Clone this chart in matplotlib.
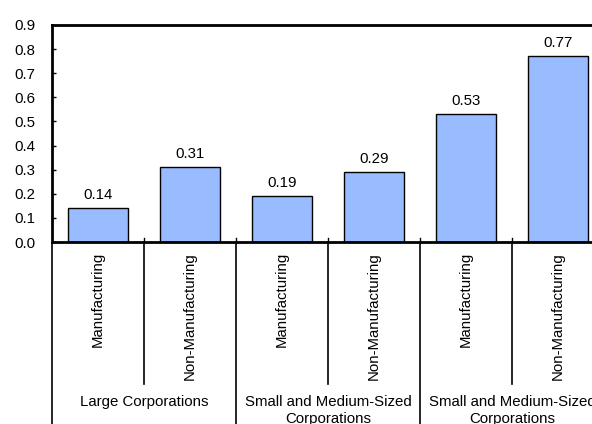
import numpy as np
import matplotlib.pyplot as plt
from matplotlib.ticker import FormatStrFormatter

plt.rcParams['font.family'] = ['Liberation Sans', 'DejaVu Sans']
plt.rcParams['font.size'] = 10.8

# ratio values by corporation size / industry
industries = ["Manufacturing", "Non-Manufacturing",
              "Manufacturing", "Non-Manufacturing",
              "Manufacturing", "Non-Manufacturing"]
groups = ["Large Corporations",
          "Small and Medium-Sized\nCorporations",
          "Small and Medium-Sized\nCorporations"]
values = [0.14, 0.31, 0.19, 0.29, 0.53, 0.77]

fig = plt.figure(figsize=(5.92, 4.24), dpi=100)
# plot area runs a bit past the right edge of the figure
ax = fig.add_axes([52 / 592, 1 - 242 / 424, 552 / 592, 217 / 424])

x = np.arange(len(values))
bars = ax.bar(x, values, width=0.66, color='#99bbff', edgecolor='black', linewidth=1)
for b, v in zip(bars, values):
    ax.text(b.get_x() + b.get_width() / 2, v + 0.025, "%.2f" % v,
            ha='center', va='bottom')

ax.set_xlim(-0.5, len(values) - 0.5)
ax.set_ylim(0, 0.9)
ax.set_yticks(np.arange(0, 0.91, 0.1))
ax.yaxis.set_major_formatter(FormatStrFormatter('%.1f'))
ax.tick_params(axis='y', direction='in', length=3, width=1, pad=12)
ax.set_xticks([])

for s in ['left', 'top', 'bottom']:
    ax.spines[s].set_linewidth(2)
ax.spines['right'].set_visible(False)

# two-level category axis drawn below the plot
trans = ax.get_xaxis_transform()
ax_h = 217.0  # axes height in pixels
def ypx(px):
    return -px / ax_h

for i, name in enumerate(industries):
    ax.text(i, ypx(10), name, rotation=90, ha='center', va='top',
            transform=trans)

for b in np.arange(0.5, len(values) - 0.5, 1.0):
    ax.plot([b, b], [0, 4 / ax_h], color='black', lw=1, transform=trans, clip_on=False)
for b in [0.5, 2.5, 4.5]:
    ax.plot([b, b], [0, ypx(142)], color='black', lw=1.2, transform=trans, clip_on=False)
for b in [-0.5, 1.5, 3.5, 5.5]:
    ax.plot([b, b], [0, ypx(190)], color='black', lw=1.2, transform=trans, clip_on=False)

for g, name in enumerate(groups):
    ax.text(2 * g + 0.5, ypx(153), name, ha='center', va='top',
            transform=trans, linespacing=1.3)

fig.savefig("out.png", dpi=100)
